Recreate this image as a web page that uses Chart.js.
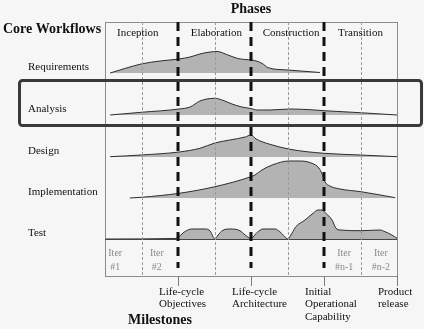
<!DOCTYPE html>
<html>
<head>
<meta charset="utf-8">
<script src="https://cdn.jsdelivr.net/npm/chart.js@4/dist/chart.umd.min.js"></script>
<style>
  html, body { margin: 0; padding: 0; background: #f6f6f6; }
  canvas { display: block; }
</style>
</head>
<body>
<canvas id="c" width="424" height="329"></canvas>
<script>
// Phases, workflows, iterations and milestones of the process
const phases = ['Inception', 'Elaboration', 'Construction', 'Transition'];
const phaseLabelAt = [0.9, 3.05, 5.1, 7.0];
const phaseBoundaries = [2, 4, 6];
const iterationBoundaries = [1, 3, 5, 7];
const workflows = ['Requirements', 'Analysis', 'Design', 'Implementation', 'Test'];
const iterationLabels = [['Iter', '#1'], ['Iter', '#2'], ['Iter', '#n-1'], ['Iter', '#n-2']];
const iterationLabelAt = [0.28, 1.42, 6.55, 7.56];
const milestones = [['Life-cycle', 'Objectives'], ['Life-cycle', 'Architecture'],
                    ['Initial', 'Operational', 'Capability'], ['Product', 'release']];
const milestoneAt = [2, 4, 6, 8];

// Effort of each workflow over time (time measured in iterations)
const requirementsAt     = [0.14, 0.99, 1.51, 2.03, 2.33, 2.60, 2.88, 3.07, 3.37, 3.64, 3.84, 4.03, 4.30, 4.47, 5.01, 5.89];
const requirementsEffort = [0, 9, 12, 14, 16, 19, 21, 21.5, 18, 14.5, 13.5, 13, 9.7, 5.3, 3, 0.5];

const analysisAt     = [0.14, 0.99, 2.03, 2.33, 2.60, 2.79, 3.01, 3.21, 3.48, 3.75, 4.0, 4.16, 4.52, 5.07, 5.62, 6.0, 6.99, 8.0];
const analysisEffort = [0, 2.7, 6, 8, 14, 16, 16.7, 15, 11, 8, 6.5, 5, 5, 6, 5.3, 4.3, 2.3, 0];

const designAt     = [0.14, 0.99, 2.03, 2.60, 3.01, 3.42, 3.84, 4.0, 4.14, 4.52, 5.07, 6.0, 6.99, 8.0];
const designEffort = [0.3, 2, 5, 8.7, 14, 17, 20, 22, 18, 12.7, 7.7, 3.7, 2, 0.3];

const implementationAt     = [0.68, 0.99, 2.03, 3.01, 4.0, 4.11, 4.30, 4.58, 5.04, 5.34, 5.67, 5.86, 5.95, 6.03, 6.16, 6.44, 7.01, 7.95];
const implementationEffort = [0, 0.7, 4.7, 11.3, 21.3, 23, 28, 33, 37, 37, 34.7, 30, 24, 16, 12, 9, 6.3, 0.3];

const testAt     = [0, 1.92, 2.03, 2.19, 2.38, 2.74, 2.88, 2.96, 3.01, 3.10, 3.21, 3.42, 3.70, 3.84, 4.0, 4.16, 4.33, 4.66,
                    4.79, 4.90, 5.01, 5.12, 5.23, 5.48, 5.70, 5.84, 5.95, 6.05, 6.22, 6.33, 6.44, 7.01, 7.53, 7.67, 7.86, 8.0];
const testEffort = [0, 0.5, 2.5, 7.5, 10, 10, 8, 2.5, 0, 4, 8.3, 10, 8.3, 4, 0.7, 6.3, 10, 10,
                    7.3, 3.3, 0, 5.7, 12.3, 19, 25.7, 29, 29, 25.7, 19, 10.7, 9, 8.3, 9, 7.3, 4, 0.7];

// Baseline of each workflow band on the vertical scale
const rowBase = [203, 161, 119, 78, 37];

const series = [
  [requirementsAt, requirementsEffort],
  [analysisAt, analysisEffort],
  [designAt, designEffort],
  [implementationAt, implementationEffort],
  [testAt, testEffort]
];

const datasets = series.map(([xs, ys], i) => ({
  label: workflows[i],
  data: xs.map((x, k) => ({ x: x, y: rowBase[i] + ys[k] })),
  fill: { value: rowBase[i] },
  backgroundColor: '#b3b3b3',
  borderColor: '#2e2e2e',
  borderWidth: 1,
  pointRadius: 0,
  cubicInterpolationMode: 'monotone'
}));

const SERIF = '"Liberation Serif", "DejaVu Serif", serif';

const decorations = {
  id: 'decorations',
  beforeDraw(chart) {
    const ctx = chart.ctx;
    ctx.save();
    ctx.fillStyle = '#f6f6f6';
    ctx.fillRect(0, 0, chart.width, chart.height);
    ctx.restore();
  },
  afterDatasetsDraw(chart) {
    const ctx = chart.ctx;
    const xs = chart.scales.x, ys = chart.scales.y;
    const area = chart.chartArea;
    const L = Math.round(area.left), R = Math.round(area.right);
    const T = Math.round(area.top), B = Math.round(area.bottom);
    ctx.save();

    // frame
    ctx.strokeStyle = '#8c8c8c';
    ctx.lineWidth = 1;
    ctx.strokeRect(L + 0.5, T + 0.5, R - L, B - T);

    // test baseline / iteration row separator
    const sepY = Math.round(ys.getPixelForValue(rowBase[4])) + 0.5;
    ctx.strokeStyle = '#444';
    ctx.beginPath(); ctx.moveTo(L, sepY); ctx.lineTo(R, sepY); ctx.stroke();

    // iteration dividers
    ctx.strokeStyle = '#9a9a9a';
    ctx.setLineDash([3, 2]);
    iterationBoundaries.forEach(v => {
      const x = Math.round(xs.getPixelForValue(v)) + 0.5;
      ctx.beginPath(); ctx.moveTo(x, T); ctx.lineTo(x, B); ctx.stroke();
    });

    // milestone ticks below the frame
    ctx.setLineDash([]);
    ctx.strokeStyle = '#7a7a7a';
    milestoneAt.forEach(v => {
      const x = Math.round(xs.getPixelForValue(v)) + 0.5;
      ctx.beginPath(); ctx.moveTo(x, B); ctx.lineTo(x, B + 10); ctx.stroke();
    });

    // phase boundaries
    ctx.strokeStyle = '#111';
    ctx.lineWidth = 3;
    ctx.setLineDash([9, 6]);
    phaseBoundaries.forEach(v => {
      const x = xs.getPixelForValue(v);
      ctx.beginPath(); ctx.moveTo(x, T); ctx.lineTo(x, B - 8); ctx.stroke();
    });
    ctx.setLineDash([]);

    // headings
    ctx.fillStyle = '#111';
    ctx.textBaseline = 'middle';
    ctx.font = 'bold 14px ' + SERIF;
    ctx.textAlign = 'center';
    ctx.fillText('Phases', xs.getPixelForValue(4), 9);
    ctx.fillText('Milestones', 160, 320);
    ctx.textAlign = 'left';
    ctx.fillText('Core Workflows', 3, 29);

    // phase names
    ctx.font = '11px ' + SERIF;
    ctx.textAlign = 'center';
    phases.forEach((p, i) => ctx.fillText(p, xs.getPixelForValue(phaseLabelAt[i]), 33));

    // workflow names
    ctx.textAlign = 'left';
    workflows.forEach((w, i) => ctx.fillText(w, 28, ys.getPixelForValue(rowBase[i]) - 6));

    // milestone names
    milestones.forEach((lines, i) => {
      const x = xs.getPixelForValue(milestoneAt[i]) - 19;
      lines.forEach((t, k) => ctx.fillText(t, x, 292 + k * 12.5));
    });

    // iteration labels
    ctx.fillStyle = '#8a8a8a';
    ctx.font = '10px ' + SERIF;
    ctx.textAlign = 'center';
    iterationLabels.forEach((lines, i) => {
      const x = xs.getPixelForValue(iterationLabelAt[i]);
      lines.forEach((t, k) => ctx.fillText(t, x, 253 + k * 14));
    });

    // highlight around the Analysis workflow
    ctx.strokeStyle = '#3a3a3a';
    ctx.lineWidth = 3;
    ctx.beginPath();
    ctx.roundRect(19.5, 80.5, 402, 45, 3);
    ctx.stroke();

    ctx.restore();
  }
};

new Chart(document.getElementById('c'), {
  type: 'line',
  data: { datasets: datasets },
  options: {
    responsive: false,
    animation: false,
    events: [],
    layout: { padding: { left: 105, right: 27, top: 22, bottom: 53 } },
    scales: {
      x: { type: 'linear', min: 0, max: 8, display: false },
      y: { type: 'linear', min: 0, max: 254, display: false }
    },
    plugins: { legend: { display: false }, tooltip: { enabled: false } }
  },
  plugins: [decorations]
});
</script>
</body>
</html>
